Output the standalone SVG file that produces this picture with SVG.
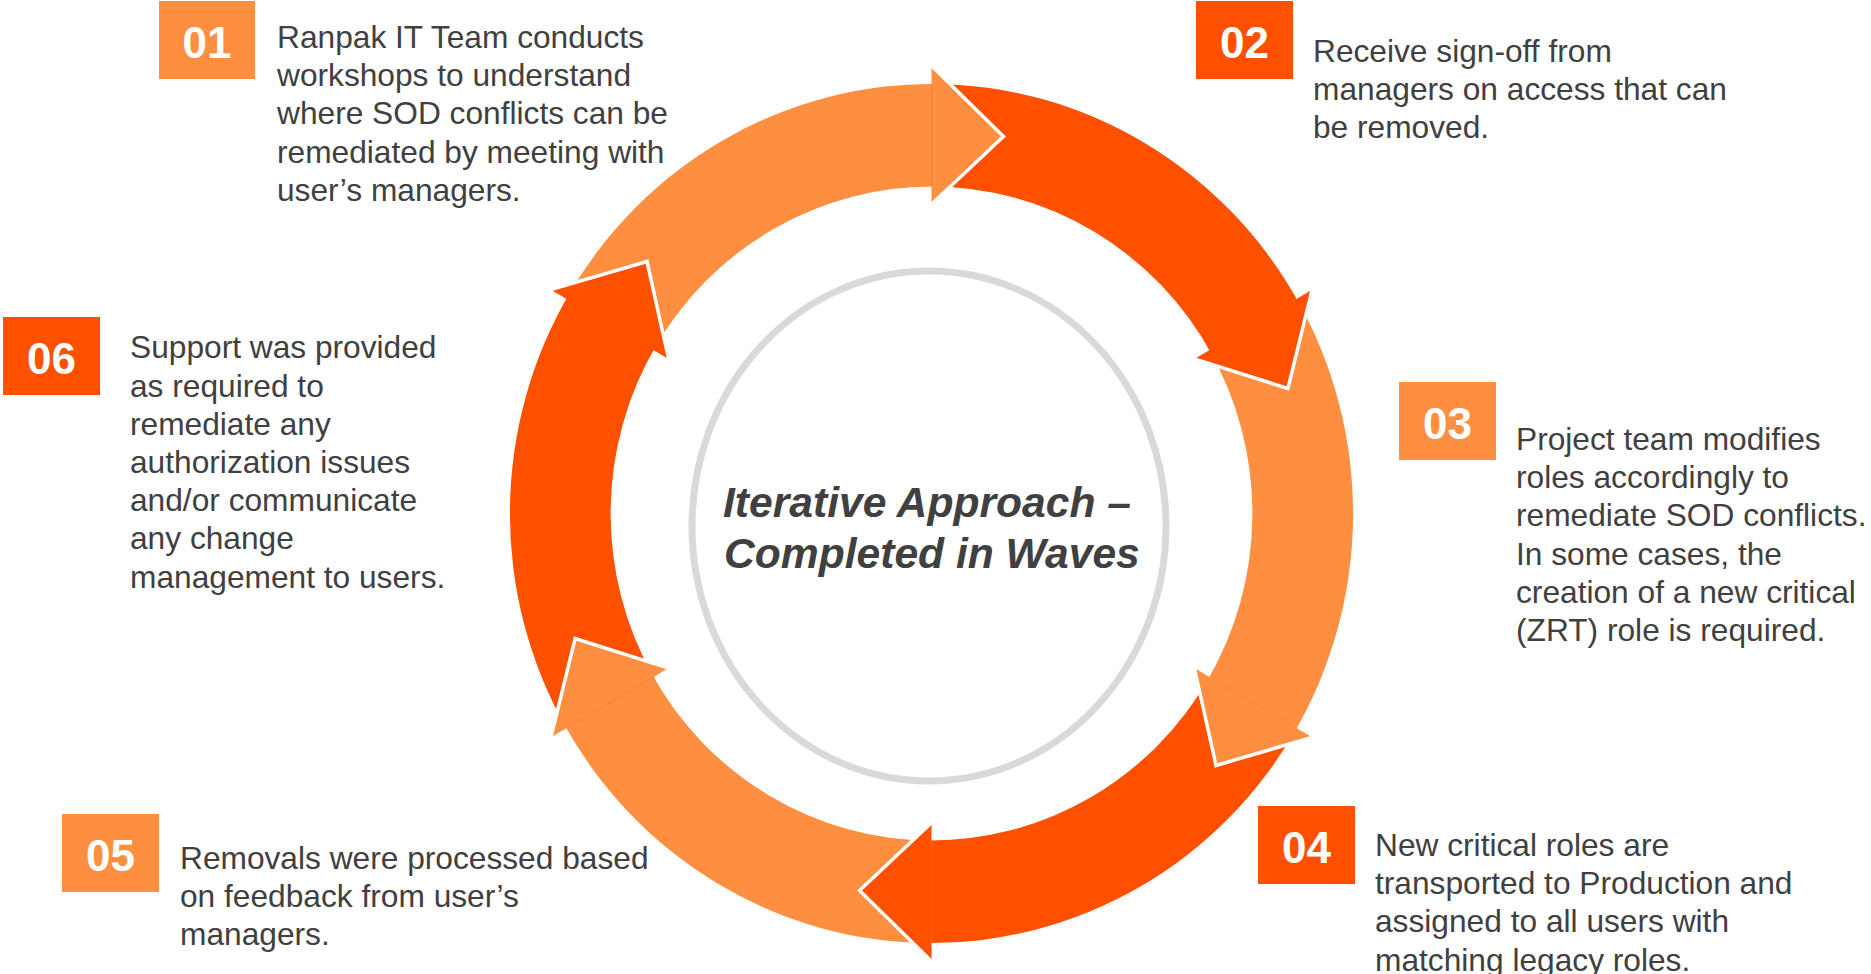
<svg xmlns="http://www.w3.org/2000/svg" width="1871" height="974" viewBox="0 0 1871 974">
<style>
.red{fill:#ff5000}
.lt{fill:#ff8f40}
.head{stroke:#ffffff;stroke-width:3.5;stroke-linejoin:miter}
.num{font-family:"Liberation Sans",Arial,sans-serif;font-weight:bold;font-size:44px;fill:#ffffff;text-anchor:middle}
.txt{font-family:"Liberation Sans",Arial,sans-serif;font-size:31.7px;fill:#404040}
.title{font-family:"Liberation Sans",Arial,sans-serif;font-weight:bold;font-style:italic;font-size:42.6px;fill:#404040}
</style>
<rect width="1871" height="974" fill="#ffffff"/>
<g id="connectors" transform="translate(931.5,513.5) scale(0.992,1.0106)">
  <path id="arc01" class="lt" d="M -368.06 -212.5 A 425 425 0 0 1 7.42 -424.94 L 5.65 -323.45 A 323.5 323.5 0 0 0 -280.16 -161.75 Z"/>
  <path id="arc02" class="red" d="M 0 -425 A 425 425 0 0 1 371.71 -206.04 L 282.94 -156.84 A 323.5 323.5 0 0 0 0 -323.5 Z"/>
  <path id="arc03" class="lt" d="M 368.06 -212.5 A 425 425 0 0 1 364.30 218.89 L 277.29 166.62 A 323.5 323.5 0 0 0 280.16 -161.75 Z"/>
  <path id="arc04" class="red" d="M 368.06 212.5 A 425 425 0 0 1 -7.42 424.94 L -5.65 323.45 A 323.5 323.5 0 0 0 280.16 161.75 Z"/>
  <path id="arc05" class="lt" d="M 0 425 A 425 425 0 0 1 -371.71 206.04 L -282.94 156.84 A 323.5 323.5 0 0 0 0 323.5 Z"/>
  <path id="arc06" class="red" d="M -368.06 212.5 A 425 425 0 0 1 -364.30 -218.89 L -277.29 -166.62 A 323.5 323.5 0 0 0 -280.16 161.75 Z"/>
  <path id="head01" class="lt head" d="M 0 -443 L 72.5 -373.0 L 0 -306"/>
  <path id="head02" class="red head" d="M 383.65 -221.5 L 359.3 -123.7 L 265.0 -153.0"/>
  <path id="head03" class="lt head" d="M 383.65 221.5 L 286.8 249.3 L 265.0 153.0"/>
  <path id="head04" class="red head" d="M 0 443 L -72.5 373.0 L 0 306"/>
  <path id="head05" class="lt head" d="M -383.65 221.5 L -359.3 123.7 L -265.0 153.0"/>
  <path id="head06" class="red head" d="M -383.65 -221.5 L -286.8 -249.3 L -265.0 -153.0"/>
</g>
<g id="center">
  <ellipse cx="929" cy="526" rx="237" ry="255" fill="none" stroke="#d9d9d9" stroke-width="7"/>
  <text class="title" x="723" y="517">Iterative Approach –</text>
  <text class="title" x="724" y="568">Completed in Waves</text>
</g>
<g id="step01">
  <rect class="lt" x="159" y="1" width="96" height="78"/>
  <text class="num" x="207" y="58">01</text>
  <text class="txt" x="277" y="48"><tspan x="277">Ranpak IT Team conducts</tspan><tspan x="277" dy="38.2">workshops to understand</tspan><tspan x="277" dy="38.2">where SOD conflicts can be</tspan><tspan x="277" dy="38.2">remediated by meeting with</tspan><tspan x="277" dy="38.2">user’s managers.</tspan></text>
</g>
<g id="step02">
  <rect class="red" x="1196" y="1" width="97" height="78"/>
  <text class="num" x="1244.5" y="58">02</text>
  <text class="txt" x="1313" y="62"><tspan x="1313">Receive sign-off from</tspan><tspan x="1313" dy="38.2">managers on access that can</tspan><tspan x="1313" dy="38.2">be removed.</tspan></text>
</g>
<g id="step03">
  <rect class="lt" x="1399" y="382" width="97" height="78"/>
  <text class="num" x="1447.5" y="439">03</text>
  <text class="txt" x="1516" y="450"><tspan x="1516">Project team modifies</tspan><tspan x="1516" dy="38.2">roles accordingly to</tspan><tspan x="1516" dy="38.2">remediate SOD conflicts.</tspan><tspan x="1516" dy="38.2">In some cases, the</tspan><tspan x="1516" dy="38.2">creation of a new critical</tspan><tspan x="1516" dy="38.2">(ZRT) role is required.</tspan></text>
</g>
<g id="step04">
  <rect class="red" x="1258" y="806" width="97" height="78"/>
  <text class="num" x="1306.5" y="863">04</text>
  <text class="txt" x="1375" y="856"><tspan x="1375">New critical roles are</tspan><tspan x="1375" dy="38.2">transported to Production and</tspan><tspan x="1375" dy="38.2">assigned to all users with</tspan><tspan x="1375" dy="38.2">matching legacy roles.</tspan></text>
</g>
<g id="step05">
  <rect class="lt" x="62" y="814" width="97" height="78"/>
  <text class="num" x="110.5" y="871">05</text>
  <text class="txt" x="180" y="868.5"><tspan x="180">Removals were processed based</tspan><tspan x="180" dy="38.2">on feedback from user’s</tspan><tspan x="180" dy="38.2">managers.</tspan></text>
</g>
<g id="step06">
  <rect class="red" x="3" y="317" width="97" height="78"/>
  <text class="num" x="51.5" y="374">06</text>
  <text class="txt" x="130" y="358.3"><tspan x="130">Support was provided</tspan><tspan x="130" dy="38.2">as required to</tspan><tspan x="130" dy="38.2">remediate any</tspan><tspan x="130" dy="38.2">authorization issues</tspan><tspan x="130" dy="38.2">and/or communicate</tspan><tspan x="130" dy="38.2">any change</tspan><tspan x="130" dy="38.2">management to users.</tspan></text>
</g>
</svg>
